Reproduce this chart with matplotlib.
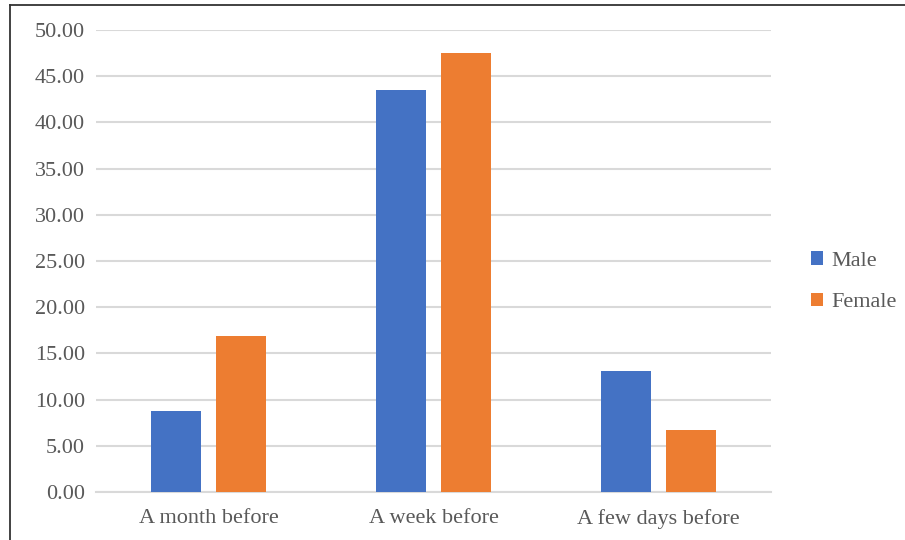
import matplotlib
matplotlib.use('Agg')
import matplotlib.pyplot as plt
from matplotlib.lines import Line2D
import numpy as np

categories = ['A month before', 'A week before', 'A few days before']
male = [8.75, 43.5, 13.1]
female = [16.9, 47.5, 6.7]
yticks = np.arange(0, 51, 5)

plt.rcParams['font.family'] = ['Liberation Serif', 'DejaVu Serif']

fig = plt.figure(figsize=(9.05, 5.4), dpi=100)
ax = fig.add_axes([96 / 905, 1 - 492 / 540, 675 / 905, 462 / 540])

x = np.arange(len(categories))
w = 0.222
off = 0.144
ax.bar(x - off, male, w, color='#4472C4', label='Male', zorder=3)
ax.bar(x + off, female, w, color='#ED7D31', label='Female', zorder=3)

ax.set_xlim(-0.5, 2.5)
ax.set_ylim(0, 50)
ax.set_yticks(yticks)
ax.set_yticklabels(['%.2f' % v for v in yticks])
ax.set_xticks(x)
ax.set_xticklabels(categories)
ax.tick_params(axis='both', length=0, labelsize=16, colors='#595959')
ax.tick_params(axis='y', pad=8)
ax.tick_params(axis='x', pad=12)
ax.grid(axis='y', color='#d9d9d9', linewidth=1.5, zorder=0)
for s in ['top', 'right', 'left']:
    ax.spines[s].set_visible(False)
ax.spines['bottom'].set_color('#d9d9d9')
ax.spines['bottom'].set_linewidth(1.5)

leg = ax.legend(loc='center left', bbox_to_anchor=(1.03, 0.455), frameon=False,
                fontsize=16, handlelength=0.55, handleheight=0.55,
                labelspacing=1.0, handletextpad=0.35)
for t in leg.get_texts():
    t.set_color('#595959')

# border on top and left only
fig.lines.append(Line2D([10 / 905, 10 / 905], [0, 1 - 5 / 540], transform=fig.transFigure,
                        color='#333333', linewidth=1.3))
fig.lines.append(Line2D([10 / 905, 1], [1 - 5 / 540, 1 - 5 / 540], transform=fig.transFigure,
                        color='#333333', linewidth=1.3))

fig.savefig('out.png', dpi=100)
